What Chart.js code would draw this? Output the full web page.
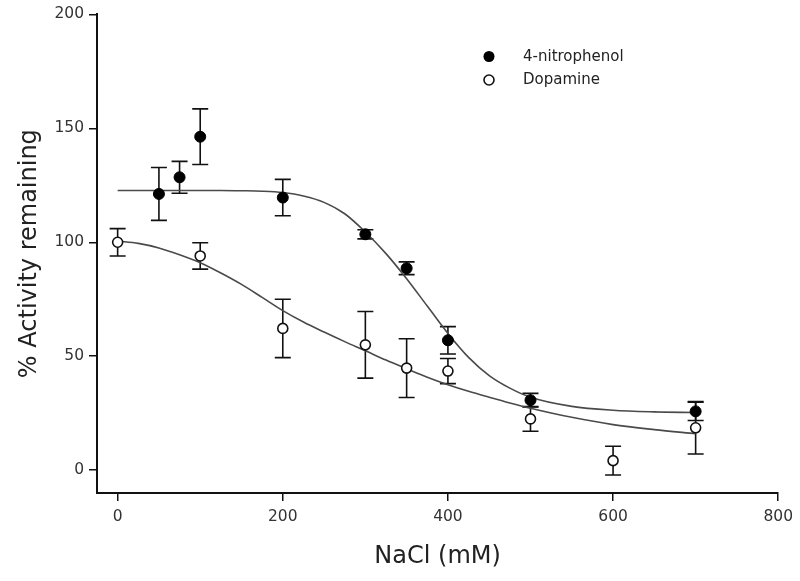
<!DOCTYPE html>
<html>
<head>
<meta charset="utf-8">
<script src="https://cdn.jsdelivr.net/npm/chart.js@4.4.1/dist/chart.umd.min.js"></script>
<style>
  html, body { margin: 0; padding: 0; background: #fff; }
  #wrap { width: 800px; height: 581px; }
</style>
</head>
<body>
<div id="wrap"><canvas id="chart" width="800" height="581"></canvas></div>
<script>
// measured points (NaCl mM, % activity, +/- error)
const nitroX = [50, 75, 100, 200, 300, 350, 400, 500, 700];
const nitroY = [121.2, 128.5, 146.3, 119.6, 103.5, 88.6, 57, 30.7, 25.8];
const nitroErr = [11.6, 7, 12.2, 8, 2, 2.8, 6, 3, 4];

const dopaX = [0, 100, 200, 300, 350, 400, 500, 600, 700];
const dopaY = [100, 94, 62.2, 55, 44.8, 43.5, 22.5, 4.2, 18.6];
const dopaErr = [6, 5.8, 12.8, 14.6, 12.9, 5.5, 5.4, 6.3, 11.5];

// fitted curves
const fitX = [0, 25, 50, 75, 100, 125, 150, 175, 200, 225, 250, 275, 300, 325, 350, 375, 400, 425, 450, 475, 500, 550, 600, 650, 700];
const nitroFit = [122.7, 122.7, 122.7, 122.7, 122.7, 122.7, 122.6, 122.4, 121.8, 120.3, 117.5, 112.5, 104.5, 95, 84, 72, 60, 49.5, 41.5, 36, 32, 28, 26.3, 25.6, 25.3];
const dopaFit = [100.5, 99.5, 97.5, 94.5, 91, 86.5, 81.5, 75.8, 70, 65, 60.6, 56.4, 52.4, 48.3, 44.5, 40.8, 37.5, 34.6, 32, 29.5, 27.2, 23.2, 20, 17.8, 16];

const xTicks = [0, 200, 400, 600, 800];
const yTicks = [0, 50, 100, 150, 200];

const FONT = "'DejaVu Sans', Arial, sans-serif";

function pts(xs, ys) { return xs.map((x, i) => ({ x, y: ys[i] })); }

const errorBars = {
  id: 'errorBars',
  beforeDatasetsDraw(chart) {
    const { ctx, scales: { x, y } } = chart;
    const sets = [[nitroX, nitroY, nitroErr], [dopaX, dopaY, dopaErr]];
    ctx.save();
    ctx.strokeStyle = '#111';
    ctx.lineWidth = 1.6;
    sets.forEach(([xs, ys, es]) => {
      xs.forEach((xv, i) => {
        const px = x.getPixelForValue(xv);
        const top = y.getPixelForValue(ys[i] + es[i]);
        const bot = y.getPixelForValue(ys[i] - es[i]);
        ctx.beginPath();
        ctx.moveTo(px, top); ctx.lineTo(px, bot);
        ctx.moveTo(px - 8, top); ctx.lineTo(px + 8, top);
        ctx.moveTo(px - 8, bot); ctx.lineTo(px + 8, bot);
        ctx.stroke();
      });
    });
    ctx.restore();
  }
};

const legendBox = {
  id: 'legendBox',
  afterDraw(chart) {
    const ctx = chart.ctx;
    ctx.save();
    ctx.font = '15px ' + FONT;
    ctx.textBaseline = 'middle';
    ctx.fillStyle = '#222';
    ctx.fillText('4-nitrophenol', 523, 57);
    ctx.fillText('Dopamine', 523, 80);
    ctx.beginPath();
    ctx.arc(489, 56.5, 5.5, 0, Math.PI * 2);
    ctx.fillStyle = '#000';
    ctx.fill();
    ctx.beginPath();
    ctx.arc(489, 80, 5, 0, Math.PI * 2);
    ctx.fillStyle = '#fff';
    ctx.fill();
    ctx.lineWidth = 1.6;
    ctx.strokeStyle = '#111';
    ctx.stroke();
    ctx.restore();
  }
};

new Chart(document.getElementById('chart'), {
  type: 'scatter',
  data: {
    datasets: [
      {
        label: '4-nitrophenol',
        data: pts(nitroX, nitroY),
        pointRadius: 5.5,
        backgroundColor: '#000',
        borderColor: '#000',
        borderWidth: 1
      },
      {
        label: 'Dopamine',
        data: pts(dopaX, dopaY),
        pointRadius: 5,
        backgroundColor: '#fff',
        borderColor: '#111',
        borderWidth: 1.6
      },
      {
        label: 'fit 4-nitrophenol',
        data: pts(fitX, nitroFit),
        showLine: true,
        pointRadius: 0,
        borderColor: '#4a4a4a',
        borderWidth: 1.6,
        cubicInterpolationMode: 'monotone'
      },
      {
        label: 'fit Dopamine',
        data: pts(fitX, dopaFit),
        showLine: true,
        pointRadius: 0,
        borderColor: '#4a4a4a',
        borderWidth: 1.6,
        cubicInterpolationMode: 'monotone'
      }
    ]
  },
  options: {
    responsive: false,
    animation: false,
    events: [],
    layout: { padding: { top: 14, right: 21, bottom: 0, left: 0 } },
    plugins: { legend: { display: false }, tooltip: { enabled: false } },
    scales: {
      x: {
        type: 'linear',
        min: -25,
        max: 800,
        afterBuildTicks: s => { s.ticks = xTicks.map(v => ({ value: v })); },
        afterFit: s => { s.height = 88; },
        grid: { display: true, drawOnChartArea: false, drawTicks: true, tickLength: 8, color: '#111', lineWidth: 1.5 },
        border: { display: true, color: '#111', width: 2 },
        ticks: { color: '#333', padding: 7, maxRotation: 0, font: { family: FONT, size: 15.5 } },
        title: { display: true, text: 'NaCl (mM)', color: '#222', padding: { top: 0, bottom: 10 }, font: { family: FONT, size: 24 } }
      },
      y: {
        type: 'linear',
        min: -10,
        max: 200,
        afterBuildTicks: s => { s.ticks = yTicks.map(v => ({ value: v })); },
        afterFit: s => { s.width = 97; },
        grid: { display: true, drawOnChartArea: false, drawTicks: true, tickLength: 8, color: '#111', lineWidth: 1.5 },
        border: { display: true, color: '#111', width: 2 },
        ticks: { color: '#333', padding: 5, font: { family: FONT, size: 15.5 } },
        title: { display: true, text: '% Activity remaining', color: '#222', padding: { top: 15, bottom: 0 }, font: { family: FONT, size: 24 } }
      }
    }
  },
  plugins: [errorBars, legendBox]
});
</script>
</body>
</html>
